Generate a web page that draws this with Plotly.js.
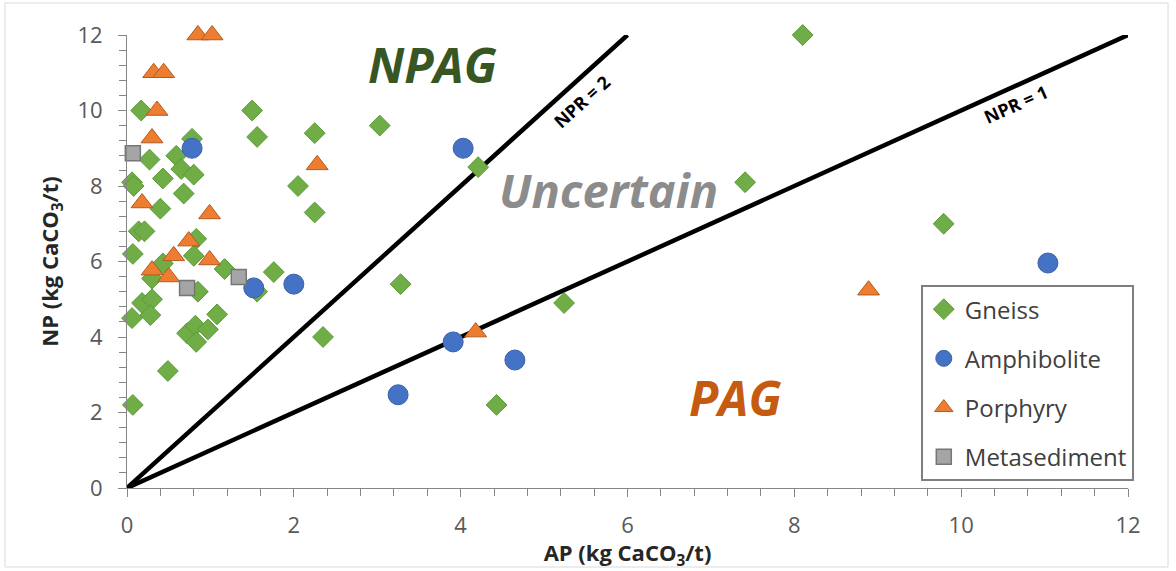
<!DOCTYPE html>
<html>
<head>
<meta charset="utf-8">
<script src="https://cdn.plot.ly/plotly-3.0.1.min.js"></script>
<style>
html,body{margin:0;padding:0;background:#fff;}
#chart{width:1176px;height:571px;}
</style>
</head>
<body>
<div id="chart"></div>
<script>
// ---- Data (AP, NP in kg CaCO3/t) ----
const gneissAP = [0.17,0.78,0.27,0.59,0.65,0.80,0.06,0.08,0.43,0.68,0.40,0.14,0.21,0.83,0.07,0.80,0.43,1.17,1.76,0.30,0.85,1.56,0.18,0.30,0.06,0.28,1.08,0.72,0.82,0.97,0.83,0.49,0.07,2.35,1.50,1.56,2.25,2.05,2.25,3.03,4.21,3.28,5.24,4.43,7.41,8.10,9.79];
const gneissNP = [10.0,9.25,8.7,8.8,8.45,8.3,8.1,8.0,8.2,7.8,7.4,6.8,6.8,6.6,6.2,6.15,5.95,5.8,5.72,5.55,5.2,5.2,4.9,5.0,4.5,4.58,4.6,4.1,4.3,4.2,3.87,3.1,2.2,4.0,10.0,9.3,9.4,8.0,7.3,9.6,8.5,5.4,4.9,2.2,8.1,12.0,7.0];

const amphAP = [0.78,1.52,2.00,4.03,3.91,4.65,3.25,11.04];
const amphNP = [9.0,5.3,5.4,9.0,3.87,3.39,2.47,5.96];

const porphAP = [0.85,1.02,0.32,0.44,0.36,0.30,0.18,0.99,0.74,0.56,0.99,0.30,0.50,2.28,4.18,8.89];
const porphNP = [12.0,12.0,11.0,11.0,10.0,9.27,7.55,7.26,6.54,6.15,6.04,5.77,5.59,8.56,4.13,5.24];

const metaAP = [0.07,0.72,1.34];
const metaNP = [8.87,5.3,5.59];

// NPR reference lines (NP = ratio * AP)
const npr2AP = [0,6];
const npr2NP = [0,12];
const npr1AP = [0,12];
const npr1NP = [0,12];

const FONT = '"Open Sans", Lato, sans-serif';

const traces = [
  {x:npr2AP, y:npr2NP, mode:'lines', line:{color:'#000', width:4.5}, showlegend:false, hoverinfo:'skip'},
  {x:npr1AP, y:npr1NP, mode:'lines', line:{color:'#000', width:4.5}, showlegend:false, hoverinfo:'skip'},
  {x:gneissAP, y:gneissNP, name:'Gneiss', legendgroup:'g1', mode:'markers', cliponaxis:false,
   marker:{symbol:'diamond', size:16, color:'#70ad47', line:{color:'#5b9a3a', width:1}}},
  {x:amphAP, y:amphNP, name:'Amphibolite', legendgroup:'g2', mode:'markers', cliponaxis:false,
   marker:{symbol:'circle', size:20, color:'#4472c4', line:{color:'#3a62a8', width:1}}},
  {x:porphAP, y:porphNP, name:'Porphyry', legendgroup:'g3', mode:'markers', cliponaxis:false,
   marker:{symbol:'triangle-up', size:19, color:'#ed7d31', line:{color:'#b35a1f', width:1}}},
  {x:metaAP, y:metaNP, name:'Metasediment', legendgroup:'g4', mode:'markers', cliponaxis:false,
   marker:{symbol:'square', size:15, color:'#a5a5a5', line:{color:'#767676', width:1.5}}}
];

const axisCommon = {
  range:[0,12], dtick:2, showgrid:false, zeroline:false,
  showline:true, linecolor:'#868686', linewidth:1,
  ticks:'outside', ticklen:8, tickcolor:'#868686', tickwidth:1,
  minor:{dtick:0.4, ticks:'outside', ticklen:7, tickcolor:'#868686', showgrid:false},
  tickfont:{family:FONT, size:22, color:'#595959'}
};

const layout = {
  width:1176, height:571,
  margin:{l:127, r:48, t:35, b:83},
  paper_bgcolor:'#fff', plot_bgcolor:'#fff',
  showlegend:true,
  xaxis:Object.assign({}, axisCommon, {
    ticklabelstandoff:10,
    title:{text:'<b>AP (kg CaCO<sub>3</sub>/t)</b>', font:{family:FONT, size:22, color:'#262626'}, standoff:10}
  }),
  yaxis:Object.assign({}, axisCommon, {
    ticklabelstandoff:11,
    title:{text:'<b>NP (kg CaCO<sub>3</sub>/t)</b>', font:{family:FONT, size:22, color:'#262626'}, standoff:12}
  }),
  legend:{
    x:0.793, y:0.448, xanchor:'left', yanchor:'top',
    bgcolor:'#fff', bordercolor:'#7f7f7f', borderwidth:2,
    font:{family:FONT, size:24, color:'#404040'},
    traceorder:'grouped', tracegroupgap:15, itemwidth:32
  },
  annotations:[
    {x:3.66, y:11.23, xref:'x', yref:'y', text:'<b><i>NPAG</i></b>', showarrow:false,
     font:{family:FONT, size:48, color:'#375623'}},
    {x:5.77, y:7.9, xref:'x', yref:'y', text:'<b><i>Uncertain</i></b>', showarrow:false,
     font:{family:FONT, size:47, color:'#8c8c8c'}},
    {x:7.3, y:2.4, xref:'x', yref:'y', text:'<b><i>PAG</i></b>', showarrow:false,
     font:{family:FONT, size:48, color:'#c55a11'}},
    {x:5.46, y:10.24, xref:'x', yref:'y', text:'<b>NPR = 2</b>', showarrow:false, textangle:-42,
     font:{family:FONT, size:18, color:'#000'}},
    {x:10.66, y:10.17, xref:'x', yref:'y', text:'<b>NPR = 1</b>', showarrow:false, textangle:-24,
     font:{family:FONT, size:18, color:'#000'}}
  ],
  shapes:[
    {type:'rect', xref:'paper', yref:'paper', x0:-0.1219, x1:1.0400, y0:-0.1744, y1:1.0706,
     line:{color:'#d9d9d9', width:1}, fillcolor:'rgba(0,0,0,0)', layer:'below'}
  ]
};

Plotly.newPlot('chart', traces, layout, {displayModeBar:false, staticPlot:true});
</script>
</body>
</html>
